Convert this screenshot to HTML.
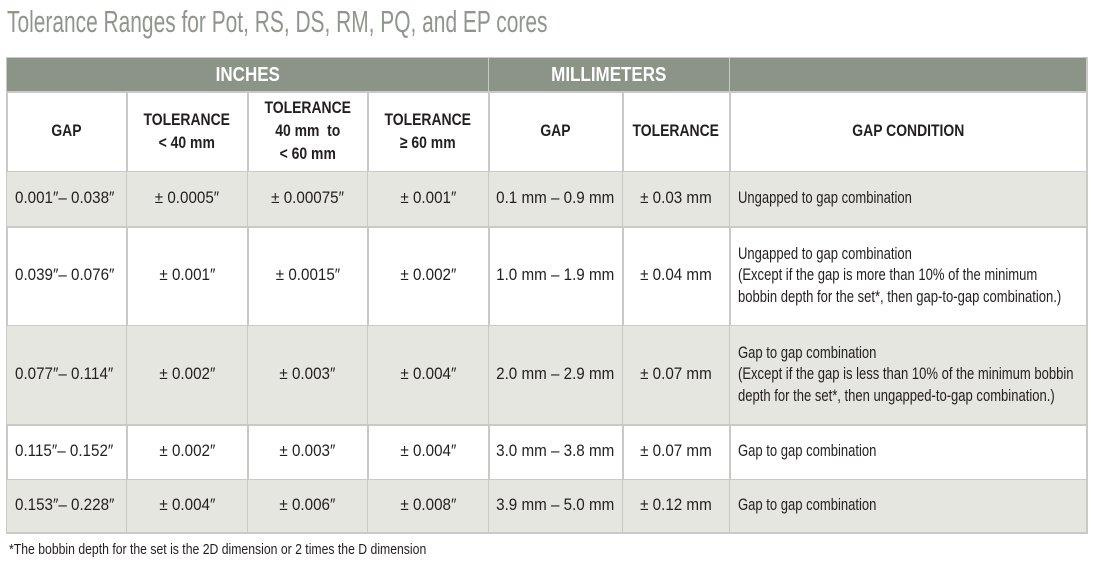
<!DOCTYPE html>
<html><head><meta charset="utf-8"><style>
body{margin:0;width:1093px;height:563px;background:#fff;position:relative;overflow:hidden;font-family:"Liberation Sans",sans-serif;color:#231f20}
.t{position:absolute;left:7px;top:4px;font-size:31px;color:#8f968c;white-space:nowrap;transform:scaleX(0.675);transform-origin:left}
.c{position:absolute;box-sizing:border-box;display:flex;align-items:center;justify-content:center;text-align:center;font-size:16.5px;line-height:1.3;border-right:2px solid #c9cac5;border-bottom:2px solid #c9cac5}
.c span{display:inline-block;white-space:nowrap;transform:scaleX(0.92)}
.h{background:#8c9488;color:#fff;font-weight:bold;font-size:20px}
.h span{transform:scaleX(0.85)}
.hh{font-weight:bold;font-size:17px;line-height:1.35}
.hh span{transform:scaleX(0.82)}
.g{background:#e6e6e0}
.l{justify-content:flex-start;text-align:left;padding-left:8px}
.l span{transform-origin:left;transform:scaleX(0.92)}
.cond span{transform:scaleX(0.79)}
.f{position:absolute;left:9px;top:541px;font-size:15px;white-space:nowrap;transform:scaleX(0.815);transform-origin:left}
</style></head><body>
<div class="t">Tolerance Ranges for Pot, RS, DS, RM, PQ, and EP cores</div>
<div style="position:absolute;left:6px;top:57px;width:1082px;height:477px;border-left:2px solid #c9cac5;border-top:2px solid #c9cac5;box-sizing:border-box"></div>
<div id="g"></div>
<div class="f">*The bobbin depth for the set is the 2D dimension or 2 times the D dimension</div>
<script>
var X=[7,127,248,368,489,623,730,1087],Y=[58,92,172,227,326,425,480,533];
var out='';
function cell(x0,x1,y0,y1,cls,txt){out+='<div class="c '+cls+'" style="left:'+x0+'px;top:'+y0+'px;width:'+(x1-x0+1)+'px;height:'+(y1-y0+1)+'px"><span>'+txt+'</span></div>';}
cell(X[0],X[4],Y[0],Y[1],'h','INCHES');
cell(X[4],X[6],Y[0],Y[1],'h','MILLIMETERS');
cell(X[6],X[7],Y[0],Y[1],'h','');
var hd=['GAP','TOLERANCE<br>&lt; 40 mm','TOLERANCE<br>40 mm&nbsp; to<br>&lt; 60 mm','TOLERANCE<br>&ge; 60 mm','GAP','TOLERANCE','GAP CONDITION'];
for(var i=0;i<7;i++)cell(X[i],X[i+1],Y[1],Y[2],'hh',hd[i]);
var rows=[
['0.001″– 0.038″','± 0.0005″','± 0.00075″','± 0.001″','0.1 mm – 0.9 mm','± 0.03 mm','Ungapped to gap combination'],
['0.039″– 0.076″','± 0.001″','± 0.0015″','± 0.002″','1.0 mm – 1.9 mm','± 0.04 mm','Ungapped to gap combination<br>(Except if the gap is more than 10% of the minimum<br>bobbin depth for the set*, then gap-to-gap combination.)'],
['0.077″– 0.114″','± 0.002″','± 0.003″','± 0.004″','2.0 mm – 2.9 mm','± 0.07 mm','Gap to gap combination<br>(Except if the gap is less than 10% of the minimum bobbin<br>depth for the set*, then ungapped-to-gap combination.)'],
['0.115″– 0.152″','± 0.002″','± 0.003″','± 0.004″','3.0 mm – 3.8 mm','± 0.07 mm','Gap to gap combination'],
['0.153″– 0.228″','± 0.004″','± 0.006″','± 0.008″','3.9 mm – 5.0 mm','± 0.12 mm','Gap to gap combination']];
for(var r=0;r<5;r++)for(var i=0;i<7;i++){var cls=(r%2==0?'g ':'')+(i==0?'l':'')+(i==6?'l cond':'');cell(X[i],X[i+1],Y[r+2],Y[r+3],cls,rows[r][i]);}
document.getElementById('g').innerHTML=out;
</script>
</body></html>
